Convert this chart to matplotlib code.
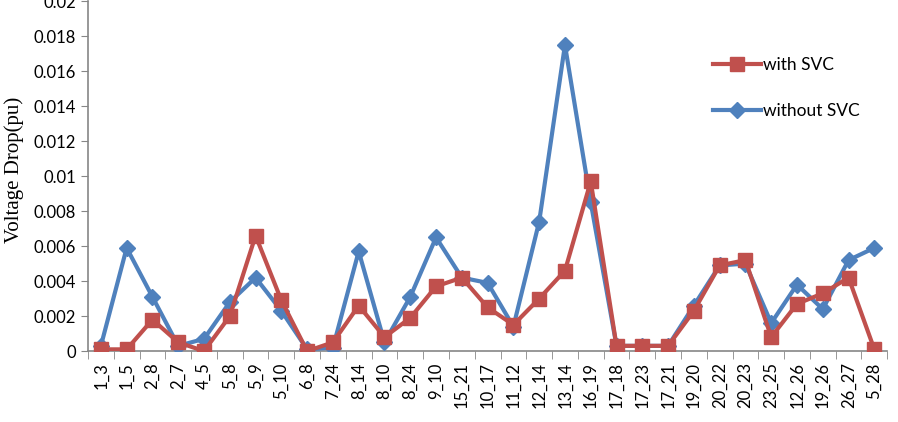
import matplotlib
matplotlib.use("Agg")
import matplotlib.pyplot as plt
import numpy as np

branches = ["1_3", "1_5", "2_8", "2_7", "4_5", "5_8", "5_9", "5_10", "6_8", "7_24",
            "8_14", "8_10", "8_24", "9_10", "15_21", "10_17", "11_12", "12_14", "13_14",
            "16_19", "17_18", "17_23", "17_21", "19_20", "20_22", "20_23", "23_25",
            "12_26", "19_26", "26_27", "5_28"]

with_svc = [0.0001, 0.0001, 0.0018, 0.0005, 0.0, 0.002, 0.0066, 0.0029, 0.0, 0.0005,
            0.0026, 0.0008, 0.0019, 0.0037, 0.0042, 0.0025, 0.0015, 0.003, 0.0046,
            0.0097, 0.0003, 0.0003, 0.0003, 0.0023, 0.0049, 0.0052, 0.0008,
            0.0027, 0.0033, 0.0042, 0.0001]

without_svc = [0.0003, 0.0059, 0.0031, 0.0003, 0.0007, 0.0028, 0.0042, 0.0023, 0.0001, 0.0002,
               0.0057, 0.0005, 0.0031, 0.0065, 0.0042, 0.0039, 0.0014, 0.0074, 0.0175,
               0.0085, 0.0003, 0.0003, 0.0003, 0.0026, 0.0049, 0.005, 0.0016,
               0.0038, 0.0024, 0.0052, 0.0059]

yticks = [0, 0.002, 0.004, 0.006, 0.008, 0.01, 0.012, 0.014, 0.016, 0.018, 0.02]
ytick_labels = ["0", "0.002", "0.004", "0.006", "0.008", "0.01", "0.012", "0.014",
                "0.016", "0.018", "0.02"]

red = "#C0504D"
blue = "#4F81BD"
grey = "#868686"

fig = plt.figure(figsize=(8.98, 4.22), dpi=100)
ax = fig.add_axes([0.098, 0.168, 0.89, 0.829])

x = np.arange(len(branches))
l2, = ax.plot(x, without_svc, color=blue, lw=3, marker="D", markersize=8,
              label="without SVC", zorder=3)
l1, = ax.plot(x, with_svc, color=red, lw=3, marker="s", markersize=10,
              label="with SVC", zorder=4)

ax.set_xlim(-0.5, len(branches) - 0.5)
ax.set_ylim(0, 0.02)
ax.set_yticks(yticks)
ax.set_yticklabels(ytick_labels, fontsize=12, family="Lato")
ax.set_xticks(x)
ax.set_xticklabels(branches, rotation=90, fontsize=12, family="Lato")
ax.set_xticks(np.arange(-0.5, len(branches)), minor=True)
ax.tick_params(axis="x", which="major", length=0, pad=8)
ax.tick_params(axis="x", which="minor", length=6, color=grey, direction="out")
ax.tick_params(axis="y", length=5, color=grey, direction="out")

for s in ["top", "right"]:
    ax.spines[s].set_visible(False)
for s in ["left", "bottom"]:
    ax.spines[s].set_color(grey)
    ax.spines[s].set_linewidth(1.2)

ax.set_ylabel("Voltage Drop(pu)", family="Liberation Serif", fontsize=15, labelpad=2)
ax.yaxis.set_label_coords(-0.08, 0.517)

ax.legend(handles=[l1, l2], loc="upper left", bbox_to_anchor=(0.762, 0.885),
          frameon=False, prop={"family": "Lato", "size": 12.5},
          handlelength=2.8, handletextpad=0.1, labelspacing=1.7)

fig.savefig("out.png", dpi=100)
